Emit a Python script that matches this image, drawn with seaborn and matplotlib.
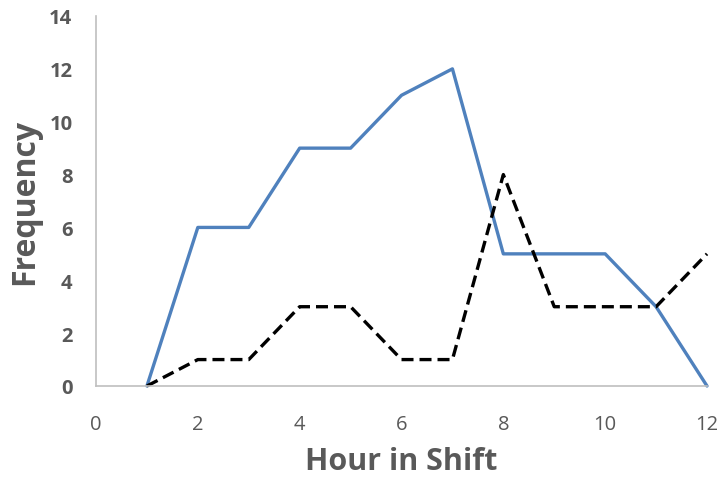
import matplotlib
matplotlib.use("Agg")
import matplotlib.pyplot as plt
import seaborn as sns
import pandas as pd

hours = [1, 2, 3, 4, 5, 6, 7, 8, 9, 10, 11, 12]
series_a = [0, 6, 6, 9, 9, 11, 12, 5, 5, 5, 3, 0]
series_b = [0, 1, 1, 3, 3, 1, 1, 8, 3, 3, 3, 5]
x_ticks = [0, 2, 4, 6, 8, 10, 12]
y_ticks = [0, 2, 4, 6, 8, 10, 12, 14]

sns.set_style("white")
plt.rcParams["font.family"] = ["Open Sans", "DejaVu Sans"]

df = pd.DataFrame({"hour": hours, "a": series_a, "b": series_b})

fig = plt.figure(figsize=(7.21, 4.81), dpi=100)
ax = fig.add_axes([96 / 721, 1 - 387 / 481, (707 - 96) / 721, (387 - 17) / 481])

sns.lineplot(data=df, x="hour", y="a", ax=ax, color="#4f81bd", linewidth=2.4)
sns.lineplot(data=df, x="hour", y="b", ax=ax, color="black", linewidth=2.4,
             linestyle=(0, (3.6, 1.8)))

ax.set_xlim(0, 12)
ax.set_ylim(0, 14)
ax.set_xticks(x_ticks)
ax.set_yticks(y_ticks)
ax.tick_params(axis="both", length=0, colors="#595959", labelsize=14.5)
ax.tick_params(axis="x", pad=20)
ax.tick_params(axis="y", pad=17)
for lbl in ax.get_yticklabels():
    lbl.set_fontweight("bold")

for side in ["top", "right"]:
    ax.spines[side].set_visible(False)
for side in ["left", "bottom"]:
    ax.spines[side].set_color("#bfbfbf")
    ax.spines[side].set_linewidth(1.2)

ax.set_xlabel("Hour in Shift", fontsize=22, fontweight="bold", color="#595959", labelpad=8.5)
ax.set_ylabel("Frequency", fontsize=23, fontweight="bold", color="#595959", labelpad=6)
for line in ax.lines:
    line.set_clip_on(False)

fig.savefig("out.png", dpi=100)
